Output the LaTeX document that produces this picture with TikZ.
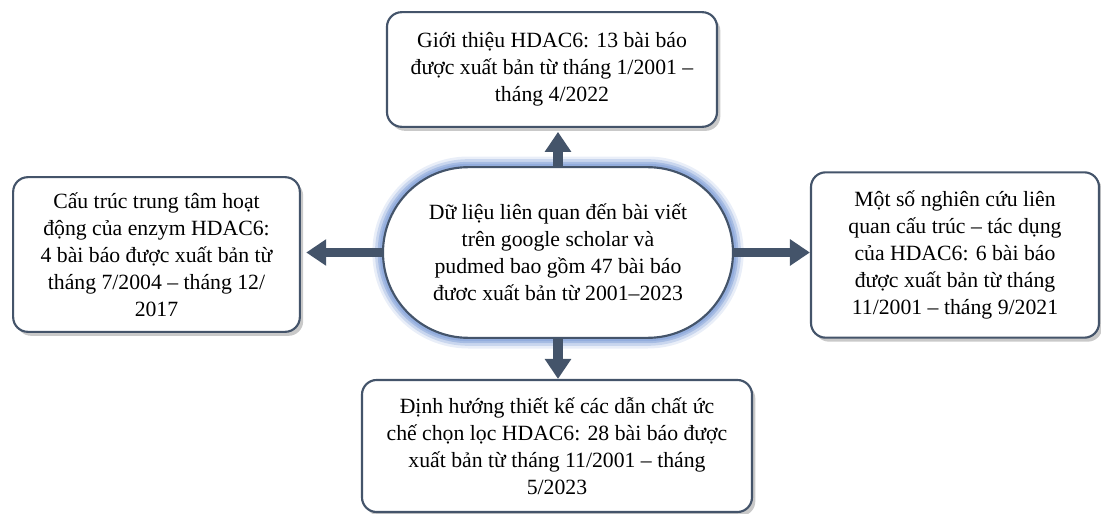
\documentclass[tikz,border=0pt]{standalone}
\usepackage{fontspec}
\setmainfont{Liberation Serif}
\usepackage{xcolor}
\usetikzlibrary{arrows.meta,shadows}

\definecolor{slate}{HTML}{44546A}
\definecolor{glow}{HTML}{8FAADC}

\tikzset{
  infobox/.style={rectangle, rounded corners=11pt, line width=1.6pt, draw=slate, fill=white, align=center,
    font=\fontsize{16.3}{20.2}\selectfont,
    drop shadow={shadow xshift=2.5pt, shadow yshift=-3pt, opacity=0.3, fill=black!70}},
  hubbox/.style={rectangle, rounded corners=64pt, line width=1.6pt, draw=slate, fill=white, align=center,
    font=\fontsize{16.3}{20.2}\selectfont,
    preaction={draw=glow, line width=16pt, draw opacity=0.2},
    preaction={draw=glow, line width=12pt, draw opacity=0.35},
    preaction={draw=glow, line width=8pt, draw opacity=0.6},
    preaction={draw=glow, line width=5pt, draw opacity=0.85}},
  link/.style={-{Triangle[width=19pt,length=15pt]}, line width=7pt, draw=slate}
}

\begin{document}
\begin{tikzpicture}[x=0.75pt, y=-0.75pt]
\useasboundingbox (0,0) rectangle (1101,514);

\draw (558,252.5) node[hubbox, minimum width=262.5pt, minimum height=128pt] (hub) {Dữ liệu liên quan đến bài viết\\trên google scholar và\\pudmed bao gồm 47 bài báo\\đươc xuất bản từ 2001–2023};

\draw (552,69.5) node[infobox, minimum width=247.5pt, minimum height=86pt] (intro) {Giới thiệu HDAC6: 13 bài báo\\được xuất bản từ tháng 1/2001 –\\tháng 4/2022};

\draw (156.5,254.5) node[infobox, minimum width=215pt, minimum height=116pt] (site) {Cấu trúc trung tâm hoạt\\động của enzym HDAC6:\\4 bài báo được xuất bản từ\\tháng 7/2004 – tháng 12/\\2017};

\draw (955,255) node[infobox, minimum width=216pt, minimum height=124pt] (sar) {Một số nghiên cứu liên\\quan cấu trúc – tác dụng\\của HDAC6: 6 bài báo\\được xuất bản từ tháng\\11/2001 – tháng 9/2021};

\draw (557,446) node[infobox, minimum width=292.5pt, minimum height=99pt] (design) {Định hướng thiết kế các dẫn chất ức\\chế chọn lọc HDAC6: 28 bài báo được\\xuất bản từ tháng 11/2001 – tháng\\5/2023};

\draw[link, shorten >=3pt] (hub.north) -- (hub.north |- intro.south);
\draw[link, shorten >=4pt] (hub.west) -- (hub.west -| site.east);
\draw[link] (hub.east) -- (hub.east -| sar.west);
\draw[link] (hub.south) -- (hub.south |- design.north);

\end{tikzpicture}
\end{document}
